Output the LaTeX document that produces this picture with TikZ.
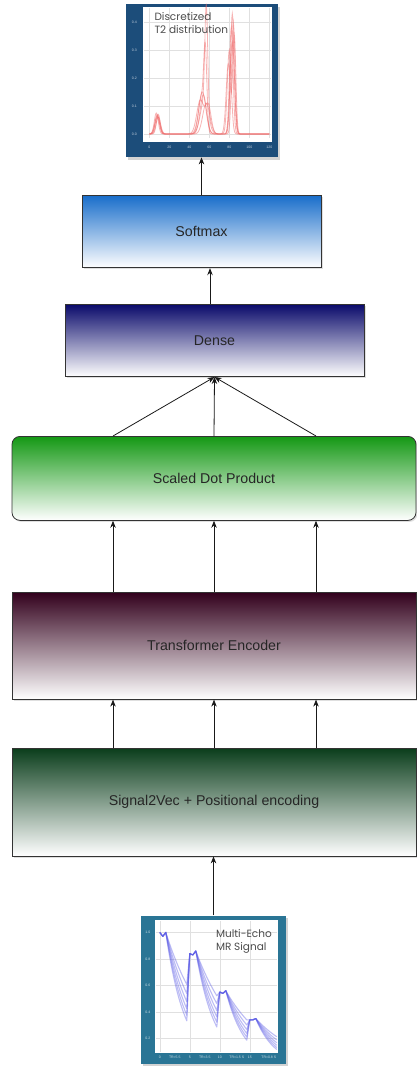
\documentclass[tikz,border=0pt]{standalone}
\usepackage{fontspec}
\setmainfont{Liberation Sans}
\newfontfamily\chartfont{Poppins}
\usepackage{tikz}
\usetikzlibrary{arrows.meta, positioning, shadows, calc}

\definecolor{softblue}{HTML}{1A6FCB}
\definecolor{densenavy}{HTML}{0B0B6B}
\definecolor{dotgreen}{HTML}{149814}
\definecolor{encplum}{HTML}{32001C}
\definecolor{vecgreen}{HTML}{0A3D1B}
\definecolor{tframe}{HTML}{1C4D7A}
\definecolor{mframe}{HTML}{2A7595}
\definecolor{peakred}{HTML}{F06A6A}
\definecolor{echoblue}{HTML}{5A5AE6}

\tikzset{
  layerbox/.style={
    rectangle, inner sep=0pt,
    top color=#1, bottom color=white,
    draw=black!80, line width=0.8pt,
    font=\fontsize{14.2}{16}\selectfont, text=black!85,
    drop shadow={opacity=0.25, shadow xshift=1.5pt, shadow yshift=-1.5pt}
  },
  flowarrow/.style={-{Stealth[length=7pt,width=5.5pt]}, line width=0.8pt, black!90},
  chartframe/.style={
    rectangle, inner sep=0pt, fill=#1,
    drop shadow={opacity=0.35, shadow xshift=2pt, shadow yshift=-2.5pt}
  },
  gridline/.style={black!12, line width=0.5pt},
  ticklabel/.style={font=\fontsize{3.5}{4}\selectfont, text=white!75!#1, inner sep=0pt},
  charttext/.style={font=\chartfont\fontsize{10.5}{13}\selectfont, text=black!70,
    align=left, inner sep=0pt},
  peakline/.style={peakred, opacity=0.5, line width=0.8pt},
  echoline/.style={echoblue, opacity=0.4, line width=1.1pt, line join=round},
}

\begin{document}
\begin{tikzpicture}[x=1pt,y=-1pt]
  \useasboundingbox (0,0) rectangle (417,1068);

  % network layers, bottom to top
  \node[layerbox=vecgreen, minimum width=404pt, minimum height=108pt] (sig) at (214,802)
       {Signal2Vec + Positional encoding};
  \node[layerbox=encplum, minimum width=404pt, minimum height=107pt,
        above=48pt of sig] (enc) {Transformer Encoder};
  \node[layerbox=dotgreen, rounded corners=8pt, minimum width=404pt, minimum height=84pt,
        above=71pt of enc] (sdp) {Scaled Dot Product};
  \node[layerbox=densenavy, minimum width=299pt, minimum height=72pt,
        above=59pt of sdp, xshift=0.5pt] (dense) {Dense};
  \node[layerbox=softblue, minimum width=239pt, minimum height=72pt,
        above=36pt of dense, xshift=-13pt] (soft) {Softmax};

  % output and input charts
  \node[chartframe=tframe, minimum width=152pt, minimum height=153pt,
        above=38pt of soft] (t2) {};
  \node[chartframe=mframe, minimum width=145pt, minimum height=148pt,
        below=59pt of sig, xshift=-0.5pt] (mr) {};

  % T2 distribution plot
  \begin{scope}[shift={(t2.north west)},
      declare function={pk(\t,\m,\s)=exp(-min(((\t-\m)/\s)^2,40));
                        tv(\v)=130-280*\v;}]
    \fill[white] (18,3) rectangle (147,138);
    \foreach \u in {0,20,...,120}
      \draw[gridline] (24+\u,4) -- (24+\u,134);
    \foreach \v in {0,0.1,...,0.41}
      \draw[gridline] (19,{tv(\v)}) -- (146,{tv(\v)});
    \foreach \v in {0.0,0.1,0.2,0.3,0.4}
      \node[ticklabel=tframe] (ty\v) at (9,{tv(\v)}) {\v};
    \foreach \u in {0,20,...,120}
      \node[ticklabel=tframe] (tx\u) at (24+\u,143) {\u};
    \draw[peakline] plot[domain=0:120,samples=241]
      ({24+\x},{tv(0.07*pk(\x,8,3)+0.15*pk(\x,53,5)+0.43*pk(\x,83,2.6))});
    \draw[peakline] plot[domain=0:120,samples=241]
      ({24+\x},{tv(0.06*pk(\x,9,3.2)+0.12*pk(\x,55,5.5)+0.36*pk(\x,57,2)+0.3*pk(\x,80,2.8))});
    \draw[peakline] plot[domain=0:120,samples=241]
      ({24+\x},{tv(0.075*pk(\x,7,2.8)+0.12*pk(\x,51,5)+0.1*pk(\x,59,4)+0.4*pk(\x,84,2.4))});
    \draw[peakline] plot[domain=0:120,samples=241]
      ({24+\x},{tv(0.065*pk(\x,8,3.5)+0.14*pk(\x,54,4.5)+0.25*pk(\x,79,3)+0.35*pk(\x,85,2.2))});
    \draw[peakline] plot[domain=0:120,samples=241]
      ({24+\x},{tv(0.07*pk(\x,9,2.6)+0.11*pk(\x,57,5)+0.38*pk(\x,82,2.5))});
    \draw[peakline] plot[domain=0:120,samples=241]
      ({24+\x},{tv(0.06*pk(\x,8,3)+0.13*pk(\x,52,4)+0.28*pk(\x,56,2.2)+0.33*pk(\x,83,3))});
    \node[charttext, anchor=north west] (t2title) at (29,8) {Discretized\\T2 distribution};
  \end{scope}

  % multi-echo signal plot
  \begin{scope}[shift={(mr.north west)},
      declare function={ym(\v)=149.5-132.5*\v;}]
    \fill[white] (14,5) rectangle (137,138);
    \foreach \u in {19,49,79,109}
      \draw[gridline] (\u,6) -- (\u,137);
    \foreach \v in {0.2,0.4,...,1.01}
      \draw[gridline] (15,{ym(\v)}) -- (136,{ym(\v)});
    \foreach \v in {0.2,0.4,0.6,0.8,1.0}
      \node[ticklabel=mframe] (my\v) at (7,{ym(\v)}) {\v};
    \foreach \u/\lbl in {19/0,49/5,79/10,109/15}
      \node[ticklabel=mframe] (mx\lbl) at (\u,142) {\lbl};
    \foreach \u/\lbl [count=\i] in {34/TR=5.5,64/TR=3.5,96/TR=1.5 S,128/TR=0.8 S}
      \node[ticklabel=mframe] (mtr\i) at (\u,142) {\lbl};
    \foreach \k in {0.5,0.62,0.74,0.86,0.98,1.1}
      \draw[echoline] (19,{ym(1.0)}) -- (22,{ym(0.97)})
        -- plot[domain=0:1,samples=12] ({25+21*\x},{ym(exp(-\k*\x))})
        -- (49,{ym(0.84)}) -- (52,{ym(0.83)})
        -- plot[domain=0:1,samples=12] ({55+21*\x},{ym(0.86*exp(-\k*\x))})
        -- (79,{ym(0.55)}) -- (82,{ym(0.54)})
        -- plot[domain=0:1,samples=12] ({85+21*\x},{ym(0.56*exp(-\k*\x))})
        -- (109,{ym(0.34)}) -- (112,{ym(0.34)})
        -- plot[domain=0:1,samples=12] ({115+21*\x},{ym(0.35*exp(-\k*\x))});
    \node[charttext, anchor=north west] (mrtitle) at (75,14) {Multi-Echo\\MR Signal};
  \end{scope}

  % connections
  \draw[flowarrow] (mr.north) -- (mr.north |- sig.south);
  \foreach \dx in {-101,0,102} {
    \draw[flowarrow] ([xshift=\dx pt]sig.north) -- ([xshift=\dx pt]enc.south);
    \draw[flowarrow] ([xshift=\dx pt]enc.north) -- ([xshift=\dx pt]sdp.south);
    \draw[flowarrow] ([xshift=\dx pt]sdp.north) -- (dense.south);
  }
  \draw[flowarrow] ([xshift=-4.5pt]dense.north) -- ([xshift=-4.5pt]dense.north |- soft.south);
  \draw[flowarrow] (soft.north) -- (soft.north |- t2.south);
\end{tikzpicture}
\end{document}
